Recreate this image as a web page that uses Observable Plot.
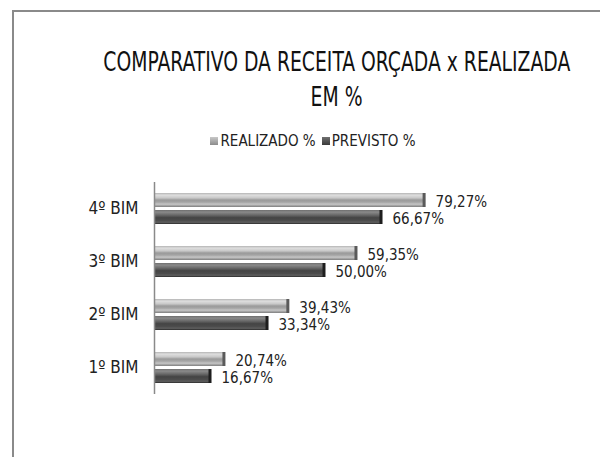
<!DOCTYPE html>
<html>
<head>
<meta charset="utf-8">
<script src="https://cdn.jsdelivr.net/npm/d3@7"></script>
<script src="https://cdn.jsdelivr.net/npm/@observablehq/plot@0.6"></script>
<style>
  body { margin: 0; background: #fff; }
  #wrap { position: relative; width: 600px; height: 457px; overflow: hidden; background: #fff;
          font-family: "DejaVu Sans Condensed", "DejaVu Sans", sans-serif; font-stretch: condensed; }
  #frame { position: absolute; left: 12px; top: 10px; width: 620px; height: 480px;
           border-left: 2px solid #8a8a8a; border-top: 2px solid #8a8a8a; }
  #title { position: absolute; left: 0; width: 674px; top: 44px; text-align: center;
           font-size: 27px; line-height: 35px; color: #111; }
  #title span { display: inline-block; white-space: nowrap; transform-origin: 50% 50%; }
  #legend { position: absolute; left: 0; width: 626px; top: 132px; text-align: center;
            font-size: 15px; color: #222; }
  #legend span.sw { display: inline-block; width: 8px; height: 8px; margin-right: 2px; vertical-align: 1px; }
  #legend span.item { margin: 0 3px; }
  #chart { position: absolute; left: 0; top: 165px; }
</style>
</head>
<body>
<div id="wrap">
  <div id="frame"></div>
  <div id="title"><span id="t1">COMPARATIVO DA RECEITA ORÇADA x REALIZADA</span><br><span id="t2">EM %</span></div>
  <div id="legend"></div>
  <div id="chart"></div>
</div>
<script>
const categories = ["4º BIM", "3º BIM", "2º BIM", "1º BIM"];
const series = ["REALIZADO %", "PREVISTO %"];
const realizado = [79.27, 59.35, 39.43, 20.74];
const previsto = [66.67, 50.00, 33.34, 16.67];

const data = [];
categories.forEach((c, i) => {
  data.push({cat: c, series: series[0], value: realizado[i]});
  data.push({cat: c, series: series[1], value: previsto[i]});
});
const fmt = v => v.toFixed(2).replace(".", ",") + "%";

const fills = ["url(#gradR)", "url(#gradP)"];
const caps = ["#5a5a5a", "#1e1e1e"];

const chart = Plot.plot({
  width: 600,
  height: 250,
  marginLeft: 154,
  marginRight: 104,
  marginTop: 16,
  marginBottom: 20,
  style: {fontFamily: '"DejaVu Sans Condensed", "DejaVu Sans", sans-serif', fontSize: "17px", color: "#222", background: "transparent"},
  x: {domain: [0, 100], axis: null},
  y: {domain: series, axis: null, paddingInner: 0.18, paddingOuter: 0.6},
  fy: {domain: categories, padding: 0, axis: "left", label: null, tickSize: 0, tickPadding: 16},
  color: {domain: series, range: fills},
  marks: [
    Plot.barX(data, {x: "value", y: "series", fy: "cat", fill: "series"}),
    Plot.tickX(data, {x: "value", y: "series", fy: "cat", stroke: d => caps[series.indexOf(d.series)], strokeWidth: 3, dx: -1.5}),
    Plot.ruleX([0], {stroke: "#8a8a8a", strokeWidth: 1.5}),
    Plot.text(data, {x: "value", y: "series", fy: "cat", text: d => fmt(d.value), textAnchor: "start", dx: 10, dy: 2, fontSize: 15, fill: "#222"})
  ]
});

const svg = d3.select(chart);
const defs = svg.insert("defs", ":first-child");
function grad(id, stops) {
  const g = defs.append("linearGradient").attr("id", id).attr("x1", 0).attr("y1", 0).attr("x2", 0).attr("y2", 1);
  stops.forEach(([o, c]) => g.append("stop").attr("offset", o).attr("stop-color", c));
}
grad("gradR", [[0, "#b4b4b4"], [0.15, "#dedede"], [0.35, "#c8c8c8"], [0.5, "#9a9a9a"], [0.65, "#a4a4a4"], [0.8, "#c6c6c6"], [1, "#7e7e7e"]]);
grad("gradP", [[0, "#6e6e6e"], [0.15, "#8a8a8a"], [0.35, "#6a6a6a"], [0.55, "#444"], [0.75, "#4c4c4c"], [0.88, "#5e5e5e"], [1, "#2a2a2a"]]);

document.getElementById("chart").appendChild(chart);

const legend = document.getElementById("legend");
series.forEach((s, i) => {
  const item = document.createElement("span");
  item.className = "item";
  const sw = document.createElement("span");
  sw.className = "sw";
  sw.style.background = i === 0 ? "linear-gradient(#c8c8c8,#8c8c8c)" : "linear-gradient(#707070,#3a3a3a)";
  item.appendChild(sw);
  item.appendChild(document.createTextNode(s));
  legend.appendChild(item);
});

// condense title to the reference width
const t1 = document.getElementById("t1"), t2 = document.getElementById("t2");
const k = 467 / t1.getBoundingClientRect().width;
t1.style.transform = `scaleX(${k})`;
t2.style.transform = `scaleX(${k})`;
</script>
</body>
</html>
